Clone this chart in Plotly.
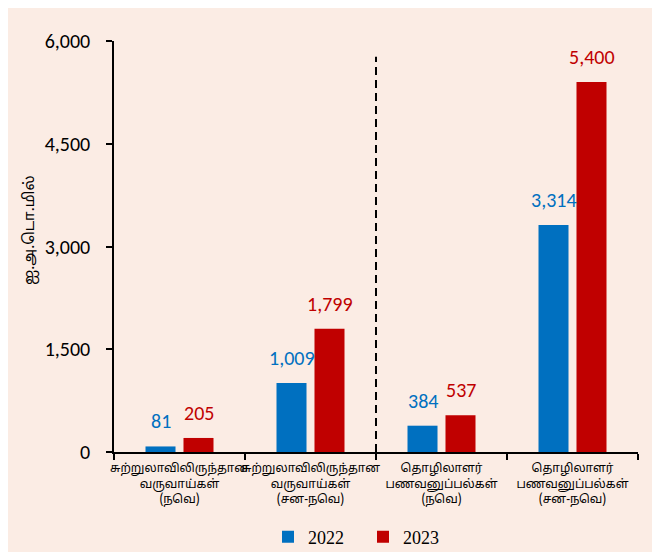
import plotly.graph_objects as go

categories = [
    "சுற்றுலாவிலிருந்தான<br>வருவாய்கள்<br>(நவெ)",
    "சுற்றுலாவிலிருந்தான<br>வருவாய்கள்<br>(சன-நவெ)",
    "தொழிலாளர்<br>பணவனுப்பல்கள்<br>(நவெ)",
    "தொழிலாளர்<br>பணவனுப்பல்கள்<br>(சன-நவெ)",
]
values_2022 = [81, 1009, 384, 3314]
values_2023 = [205, 1799, 537, 5400]
series_names = ["2022", "2023"]
y_ticks = [0, 1500, 3000, 4500, 6000]
y_title = "ஐ.அ.டொ.மில்"
divider_top = 5770

BLUE = "#0070C0"
RED = "#C00000"
BG = "#FBECE4"
NUM_FONT = "Carlito, Lato, 'Open Sans', sans-serif"
TAMIL_FONT = "'Noto Sans Tamil', 'Noto Serif Tamil', 'Lohit Tamil', Latha, serif"

# page offset (browser body margin)
OFF = 8
W, H = 660 - OFF, 555 - OFF
L, R, T, B = 114 - OFF, 22, 41 - OFF, 103
pw, ph = W - L - R, H - T - B

def px_x(x):
    return (x - OFF - L) / pw

def px_y(y):
    return (H + OFF - B - y) / ph

fig = go.Figure()
fig.add_trace(go.Bar(name=series_names[0], x=categories, y=values_2022,
                     marker=dict(color=BLUE, line=dict(width=0))))
fig.add_trace(go.Bar(name=series_names[1], x=categories, y=values_2023,
                     marker=dict(color=RED, line=dict(width=0))))

annotations = []
for vals, color, shift in [(values_2022, BLUE, -19), (values_2023, RED, 19)]:
    for c, v in zip(categories, vals):
        annotations.append(dict(
            x=c, y=v, xref="x", yref="y", text=f"{v:,}", showarrow=False,
            xshift=shift, yshift=25, yanchor="middle",
            font=dict(family=NUM_FONT, size=20, color=color)))

# y-axis title
annotations.append(dict(
    x=px_x(30), y=px_y(230), xref="paper", yref="paper", text=y_title, showarrow=False,
    textangle=-90, xanchor="center", yanchor="middle",
    font=dict(family=TAMIL_FONT, size=15, color="#000")))

shapes = [
    dict(type="rect", xref="paper", yref="paper", layer="below",
         x0=px_x(8), x1=px_x(653), y0=px_y(552), y1=px_y(4),
         fillcolor=BG, line=dict(width=0)),
    dict(type="line", xref="x", yref="y", x0=1.5, x1=1.5, y0=0, y1=divider_top,
         line=dict(color="#000", width=2, dash="8px,5px")),
]

fig.update_layout(
    width=W, height=H,
    margin=dict(l=L, r=R, t=T, b=B, pad=0, autoexpand=False),
    paper_bgcolor="white",
    plot_bgcolor=BG,
    barmode="group",
    bargap=0.42,
    bargroupgap=0.21,
    showlegend=True,
    legend=dict(orientation="h", x=px_x(363), xanchor="center",
                y=px_y(537), yanchor="middle",
                font=dict(family="Liberation Serif, Times New Roman, serif", size=18, color="#000"),
                bgcolor="rgba(0,0,0,0)", entrywidth=50, entrywidthmode="pixels",
                itemsizing="constant"),
    annotations=annotations,
    shapes=shapes,
)

fig.update_xaxes(
    type="category", showline=True, linecolor="#000", linewidth=1.5,
    ticks="outside", tickson="boundaries", ticklen=6, tickcolor="#000", tickwidth=1.5,
    showgrid=False, zeroline=False, tickangle=0, automargin=False,
    ticklabelstandoff=4,
    tickfont=dict(family=TAMIL_FONT, size=12, color="#000"),
)
fig.update_yaxes(
    range=[0, 6000], tickvals=y_ticks, tickformat=",",
    showline=True, linecolor="#000", linewidth=1.5,
    ticks="outside", ticklen=6, tickcolor="#000", tickwidth=1.5,
    showgrid=False, zeroline=False, ticklabelstandoff=12, automargin=False,
    tickfont=dict(family=NUM_FONT, size=20, color="#000"),
)

fig.write_html("out.html")
